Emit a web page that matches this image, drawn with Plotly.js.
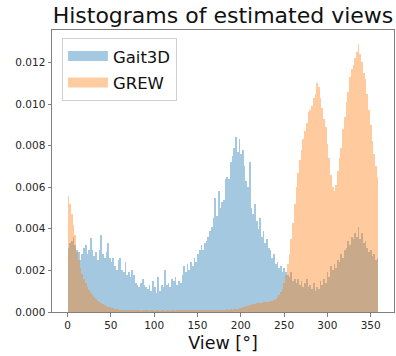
<!DOCTYPE html>
<html>
<head>
<meta charset="utf-8">
<script src="https://cdn.plot.ly/plotly-3.0.1.min.js"></script>
<style>html,body{margin:0;padding:0;background:#fff;}#chart{width:396px;height:356px;}</style>
</head>
<body>
<div id="chart"></div>
<script>
// Histogram data (density), 180 bins spanning 0..359 degrees
const viewMin = 0;
const viewMax = 359;
const seriesNames = ["Gait3D", "GREW"];

const gait3d = [
  0.0031,0.0033,0.0034,0.0036,0.0032,0.0030,0.0029,0.0025,0.0028,0.0031,
  0.0032,0.0028,0.0030,0.00355,0.0030,0.0027,0.0029,0.0025,0.0030,0.0037,
  0.0028,0.0026,0.0029,0.0033,0.0026,0.0024,0.0026,0.0022,0.0020,0.0025,
  0.0026,0.0020,0.0019,0.0024,0.0018,0.0019,0.0017,0.0020,0.0018,0.0014,
  0.0013,0.0012,0.0014,0.0016,0.0013,0.0012,0.0011,0.0013,0.0010,0.0015,
  0.0012,0.0009,0.0017,0.0010,0.0013,0.0012,0.0020,0.0013,0.0014,0.0012,
  0.0016,0.0015,0.0017,0.0013,0.0015,0.0014,0.0018,0.0022,0.0019,0.0023,
  0.0020,0.0024,0.0022,0.0026,0.0024,0.0028,0.0030,0.0032,0.0030,0.0033,
  0.0034,0.0036,0.0039,0.0041,0.0045,0.0055,0.0046,0.0058,0.0050,0.0053,
  0.0054,0.0064,0.0065,0.0064,0.0072,0.0075,0.0079,0.0084,0.0077,0.0083,
  0.0076,0.0078,0.0070,0.0063,0.0060,0.0072,0.0050,0.0047,0.0052,0.0044,
  0.0040,0.0045,0.0036,0.0039,0.0033,0.0035,0.0031,0.0030,0.0026,0.0028,
  0.0023,0.0024,0.0021,0.0022,0.0019,0.0021,0.0019,0.0018,0.0017,0.0019,
  0.0015,0.0016,0.0014,0.0016,0.0013,0.0015,0.0012,0.0014,0.0016,0.0012,
  0.0013,0.0011,0.0014,0.0010,0.0012,0.0011,0.0015,0.0013,0.0016,0.0014,
  0.0019,0.0017,0.0022,0.0020,0.0023,0.0021,0.0025,0.0024,0.0028,0.0026,
  0.0030,0.0031,0.0034,0.0032,0.0036,0.0035,0.0038,0.0036,0.0041,0.0035,
  0.0038,0.0033,0.0034,0.0031,0.0029,0.0030,0.0027,0.0028,0.0025,0.0026
];

const grew = [
  0.0056,0.0052,0.0047,0.0042,0.0037,0.0029,0.0025,0.0021,0.00185,0.0016,
  0.0014,0.0012,0.00105,0.00092,0.0008,0.0007,0.00062,0.00055,0.00048,0.00043,
  0.00038,0.00033,0.0003,0.00026,0.00023,0.0002,0.00018,0.00016,0.00015,0.00013,
  0.00012,0.00012,0.00011,0.0001,0.0001,
  0.00009,0.00008,0.0001,0.00009,0.00008,
  0.00009,0.00008,0.00007,0.00009,0.00008,
  0.00008,0.00009,0.00007,0.00008,0.00008,
  0.00007,0.00009,0.00008,0.00007,0.00008,
  0.00008,0.00007,0.00008,0.00009,0.00007,
  0.00008,0.00008,0.00007,0.00008,0.00009,
  0.00008,0.00009,0.00008,0.00009,0.0001,
  0.00009,0.0001,0.00009,0.0001,0.0001,
  0.0001,0.00009,0.0001,0.00011,0.0001,
  0.0001,0.00011,0.0001,0.00011,0.00012,
  0.00011,0.00012,0.00011,0.00012,0.00012,
  0.00012,0.00011,0.00013,0.00012,0.00013,
  0.00012,0.00013,0.00015,0.00016,0.00018,
  0.0002,0.00022,0.00025,0.00027,0.0003,
  0.00032,0.00035,0.00037,0.0004,0.00042,
  0.00042,0.00045,0.00044,0.00047,0.00048,
  0.0005,0.00048,0.00052,0.00055,0.00058,
  0.00062,0.0007,0.0008,0.00095,0.0011,
  0.0014,0.0018,0.0023,0.0028,0.0035,
  0.0043,0.0052,0.0060,0.0067,0.0073,
  0.0078,0.0083,0.0087,0.0091,0.0096,
  0.0097,0.0099,0.0103,0.0105,0.0110,
  0.0108,0.0103,0.0098,0.0093,0.0089,
  0.0081,0.0074,0.0066,0.0060,0.0058,
  0.0061,0.0068,0.0074,0.0079,0.0088,
  0.0094,0.0101,0.0106,0.0113,0.0117,
  0.0119,0.0122,0.0125,0.0129,0.0124,
  0.0120,0.0115,0.0112,0.0105,0.0097,
  0.0090,0.0082,0.0076,0.0070,0.0065
];

const xTicks = [0, 50, 100, 150, 200, 250, 300, 350];
const yTicks = [0, 0.002, 0.004, 0.006, 0.008, 0.010, 0.012];

const nBins = gait3d.length;
const binWidth = (viewMax - viewMin) / nBins;
const centers = gait3d.map((_, i) => viewMin + (i + 0.5) * binWidth);

const blue = '#1f77b4', orange = '#ff7f0e';
const FONT = 'DejaVu Sans, sans-serif';

const traces = [
  {type: 'bar', x: centers, y: gait3d, width: binWidth, name: seriesNames[0],
   marker: {color: blue, line: {width: 0}}, opacity: 0.4, showlegend: false, legendgroup: 'g1', hoverinfo: 'x+y'},
  {type: 'bar', x: centers, y: grew, width: binWidth, name: seriesNames[1],
   marker: {color: orange, line: {width: 0}}, opacity: 0.4, showlegend: false, legendgroup: 'g2', hoverinfo: 'x+y'},
  {type: 'scatter', mode: 'lines', x: [null], y: [null], name: seriesNames[0], legendgroup: 'g1',
   line: {color: 'rgba(31,119,180,0.4)', width: 11}, hoverinfo: 'skip'},
  {type: 'scatter', mode: 'lines', x: [null], y: [null], name: seriesNames[1], legendgroup: 'g2',
   line: {color: 'rgba(255,127,14,0.4)', width: 11}, hoverinfo: 'skip'}
];

const axisCommon = {
  showline: true, mirror: true, linecolor: '#808080', linewidth: 1,
  ticks: 'outside', ticklen: 3.5, tickwidth: 1, tickcolor: '#808080',
  showgrid: false, zeroline: false, automargin: false,
  tickfont: {family: FONT, size: 10.5, color: '#262626'}
};

const layout = {
  width: 396, height: 356,
  margin: {l: 52, r: 2, t: 30, b: 44, pad: 0},
  paper_bgcolor: '#fff', plot_bgcolor: '#fff',
  barmode: 'overlay', bargap: 0,
  font: {family: FONT, color: '#262626'},
  title: {text: 'Histograms of estimated views', font: {family: FONT, size: 22, color: '#111'},
          x: 0.5, xref: 'paper', xanchor: 'center', y: 1 - 15/356, yref: 'container', yanchor: 'middle'},
  xaxis: Object.assign({}, axisCommon, {
    range: [-17.95, 376.95], tickvals: xTicks, ticktext: xTicks.map(String),
    title: {text: 'View [°]', font: {family: FONT, size: 17.5, color: '#111'}, standoff: 6}
  }),
  yaxis: Object.assign({}, axisCommon, {
    range: [0, 0.01356], tickvals: yTicks, ticktext: yTicks.map(v => v.toFixed(3))
  }),
  legend: {
    x: 0.029, y: 0.972, xanchor: 'left', yanchor: 'top',
    bgcolor: '#fff', bordercolor: '#d0d0d0', borderwidth: 1,
    font: {family: FONT, size: 16.5, color: '#111'},
    tracegroupgap: 2, itemwidth: 40
  },
  showlegend: true
};

Plotly.newPlot('chart', traces, layout, {displayModeBar: false, staticPlot: true});
</script>
</body>
</html>
